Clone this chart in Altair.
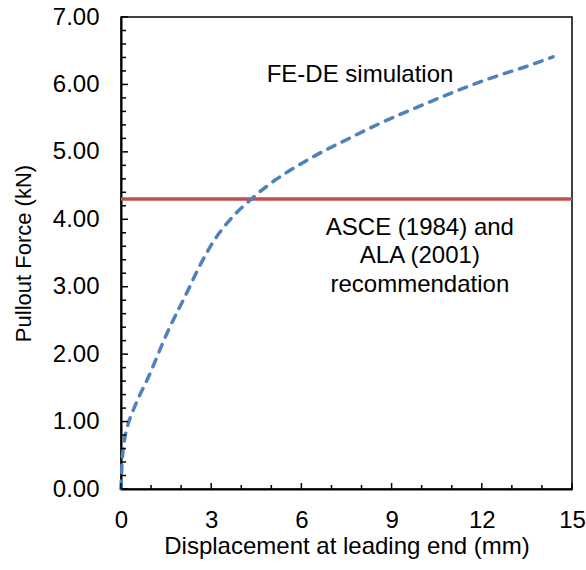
import altair as alt
import pandas as pd

# FE-DE simulation: pullout force vs. displacement at the leading end
disp_mm = [0, 0.03, 0.1, 0.2, 0.4, 0.6, 0.87, 1.56, 2.2, 2.63, 3.06, 3.72, 4.36,
           5.06, 5.9, 6.4, 7.5, 8.6, 9.84, 11.37, 12.27, 13.5, 14.37]
force_kn = [0, 0.35, 0.68, 0.9, 1.16, 1.37, 1.62, 2.34, 2.92, 3.32, 3.66, 4.04, 4.31,
            4.56, 4.80, 4.93, 5.18, 5.42, 5.66, 5.94, 6.09, 6.27, 6.41]

# ASCE (1984) / ALA (2001) recommended pullout force
asce_ala_kn = 4.3

x_major = [0, 3, 6, 9, 12, 15]
x_minor = [v for v in range(0, 16) if v % 3 != 0]
y_major = [0, 1, 2, 3, 4, 5, 6, 7]
y_minor = [round(i * 0.2, 1) for i in range(0, 36) if i % 5 != 0]

sim_label = "FE-DE simulation"
rec_label = ["ASCE (1984) and", "ALA (2001)", "recommendation"]

W, H = 451, 472
FONT = "Liberation Sans"
FS = 24

x_scale = alt.Scale(domain=[0, 15], nice=False, zero=False)
y_scale = alt.Scale(domain=[0, 7], nice=False, zero=False)

sim = pd.DataFrame({"d": disp_mm, "f": force_kn})

base_x = alt.X("d:Q", scale=x_scale,
               axis=alt.Axis(values=x_major, title="Displacement at leading end (mm)",
                             ticks=False, tickSize=0, labelPadding=19, labelFlush=False,
                             titleY=64, titleBaseline="alphabetic", titleFontSize=24,
                             grid=False, domainColor="black", domainWidth=2))
base_y = alt.Y("f:Q", scale=y_scale,
               axis=alt.Axis(values=y_major, format=".2f", title="Pullout Force (kN)",
                             ticks=False, tickSize=0, labelPadding=22, labelFlush=False,
                             titleX=-91, titleBaseline="alphabetic", titleFontSize=22,
                             grid=False, domainColor="black", domainWidth=2))

curve = alt.Chart(sim).mark_line(
    color="#4F81BD", strokeWidth=3.5, strokeDash=[8, 8], strokeCap="round",
    interpolate="monotone"
).encode(x=base_x, y=base_y)

rec = alt.Chart(pd.DataFrame({"d": [0], "d2": [15], "f": [asce_ala_kn]})).mark_rule(
    color="#C0504D", strokeWidth=3.5
).encode(x=alt.X("d:Q", scale=x_scale), x2="d2:Q", y=alt.Y("f:Q", scale=y_scale))

# inward-facing tick marks
def y_ticks(vals, length):
    return alt.Chart(pd.DataFrame({"f": vals})).mark_rule(color="black", strokeWidth=1.5).encode(
        y=alt.Y("f:Q", scale=y_scale), x=alt.value(0), x2=alt.value(length))

def x_ticks(vals, length):
    return alt.Chart(pd.DataFrame({"d": vals})).mark_rule(color="black", strokeWidth=1.5).encode(
        x=alt.X("d:Q", scale=x_scale), y=alt.value(H), y2=alt.value(H - length))

sim_text = alt.Chart(pd.DataFrame({"d": [7.95], "f": [6.14], "t": [sim_label]})).mark_text(
    font=FONT, fontSize=FS, color="black", align="center", baseline="middle"
).encode(x=alt.X("d:Q", scale=x_scale), y=alt.Y("f:Q", scale=y_scale), text="t:N")

rec_text = alt.Chart(pd.DataFrame({"d": [9.94] * 3, "f": [3.87, 3.45, 3.03], "t": rec_label})).mark_text(
    font=FONT, fontSize=FS, color="black", align="center", baseline="middle"
).encode(x=alt.X("d:Q", scale=x_scale), y=alt.Y("f:Q", scale=y_scale), text="t:N")

chart = alt.layer(
    rec, curve,
    y_ticks(y_minor, 5), y_ticks(y_major, 7),
    x_ticks(x_minor, 4), x_ticks(x_major, 6),
    sim_text, rec_text,
).properties(
    width=W, height=H,
    autosize=alt.AutoSizeParams(type="none"),
    padding={"left": 121, "top": 17, "right": 14, "bottom": 81},
    background="white",
).configure_view(
    stroke="black", strokeWidth=1.5
).configure_axis(
    labelFont=FONT, titleFont=FONT, labelFontSize=FS,
    labelColor="black", titleColor="black", titleFontWeight="normal"
)

chart.save("out.html", embed_options={"renderer": "svg", "actions": False})
